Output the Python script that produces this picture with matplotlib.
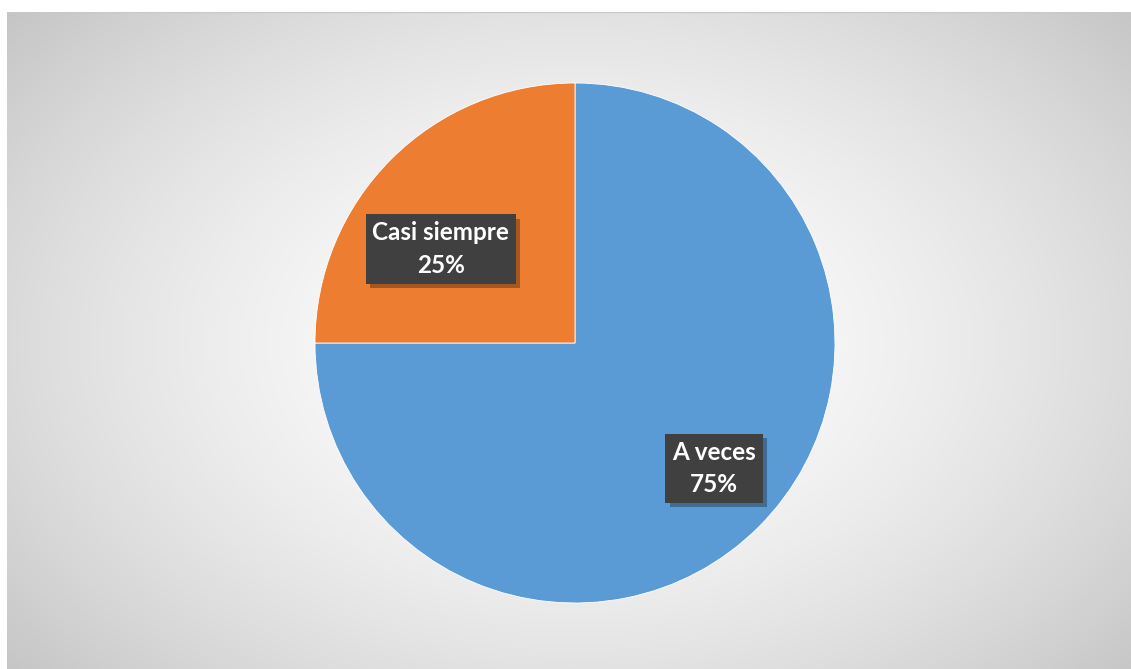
import numpy as np
import matplotlib.pyplot as plt
import matplotlib.patheffects as pe

# data
labels = ["A veces", "Casi siempre"]
values = [75, 25]
colors = ["#5B9BD5", "#ED7D31"]

W, H = 1131, 669
fig = plt.figure(figsize=(W / 100, H / 100), dpi=100)
fig.patch.set_facecolor("white")

# chart area background with radial gradient (white centre -> grey edges)
bg = fig.add_axes([7 / W, 0, (W - 7) / W, (H - 12) / H])
bg.set_axis_off()
yy, xx = np.mgrid[0:H - 12, 0:W - 7]
cx, cy = 575 - 7, 343 - 12
r = np.sqrt(((xx - cx) / 620.0) ** 2 + ((yy - cy) / 420.0) ** 2)
shade = 1.0 - 0.24 * np.clip(r, 0, 1.25) ** 1.6 / 1.25 ** 1.6
shade = np.clip(shade, 0.76, 1.0)
img = np.dstack([shade, shade, shade])
bg.imshow(img, aspect="auto", interpolation="bilinear", extent=[0, 1, 0, 1])
bg.plot([0, 1], [1, 1], color="#c8c8c8", lw=1, transform=bg.transAxes)

# pie
R = 260
ax = fig.add_axes([(575 - R) / W, (H - 343 - R) / H, 2 * R / W, 2 * R / H])
ax.set_axis_off()
wedges, _ = ax.pie(values, colors=colors, startangle=90, counterclock=False,
                   radius=1.0, wedgeprops=dict(edgecolor="white", linewidth=0.6))
ax.set_xlim(-1, 1)
ax.set_ylim(-1, 1)

# label placement (radius, angle shift) per wedge, like Excel best fit
lab_r = [0.72, 0.63]
lab_shift = [3, 10]
for w, lab, v, rr, sh in zip(wedges, labels, values, lab_r, lab_shift):
    ang = np.deg2rad((w.theta1 + w.theta2) / 2 + sh)
    x, y = rr * np.cos(ang), rr * np.sin(ang)
    t = ax.text(x, y, f"{lab}\n{v}%", ha="center", va="center", fontsize=17.5,
                fontweight="bold", family="Lato", color="white", linespacing=1.5,
                bbox=dict(boxstyle="square,pad=0.28", facecolor="#404040", edgecolor="none"))
    t.get_bbox_patch().set_path_effects([
        pe.SimplePatchShadow(offset=(3, -3), shadow_rgbFace="black", alpha=0.3),
        pe.Normal()])

fig.savefig("out.png", dpi=100)
